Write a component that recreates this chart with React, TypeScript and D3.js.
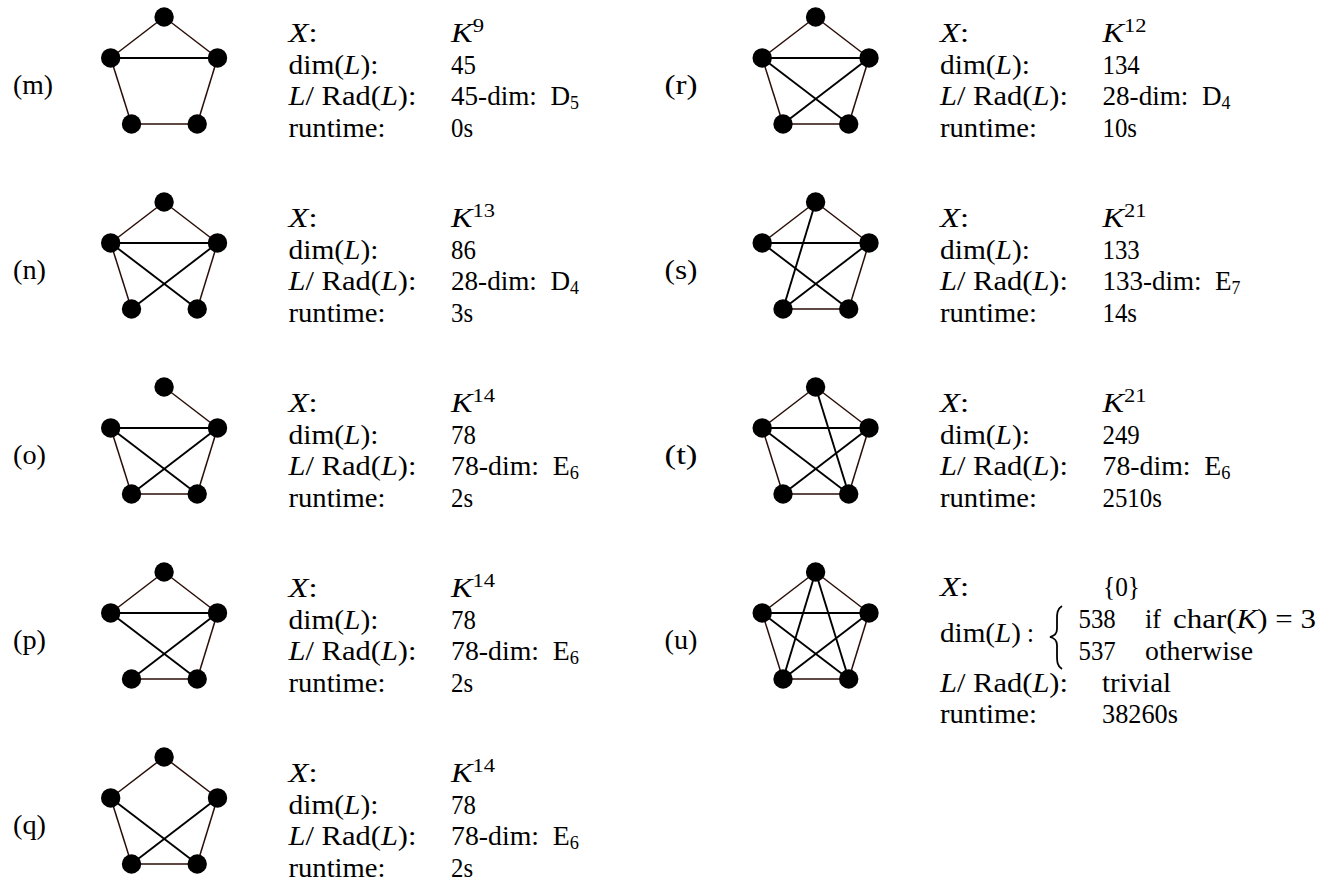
import React from "react";
import * as d3 from "d3";

const WIDTH = 1338;
const HEIGHT = 882;
const FONT = "'Liberation Serif', serif";
const SIZE = 27;
// the reference text is narrower than it is tall, so all of it gets squeezed a bit
const SQUEEZE = 0.92;

// panel data, one entry per graph
const letters = ["m", "n", "o", "p", "q", "r", "s", "t", "u"];
const columns = [0, 0, 0, 0, 0, 1, 1, 1, 1];
const rows = [0, 1, 2, 3, 4, 0, 1, 2, 3];
const edges = [
  ["01", "02", "12", "13", "24", "34"],
  ["01", "02", "12", "13", "24", "14", "23"],
  ["02", "12", "13", "24", "34", "14", "23"],
  ["01", "02", "12", "24", "34", "14", "23"],
  ["01", "02", "13", "24", "34", "14", "23"],
  ["01", "02", "12", "13", "24", "34", "14", "23"],
  ["01", "02", "12", "03", "24", "34", "14", "23"],
  ["01", "02", "12", "13", "24", "34", "14", "23", "04"],
  ["01", "02", "12", "13", "24", "34", "14", "23", "03", "04"],
];
const exponents = ["9", "13", "14", "14", "14", "12", "21", "21", ""];
const dims = ["45", "86", "78", "78", "78", "134", "133", "249", ""];
const quotientDims = ["45", "28", "78", "78", "78", "28", "133", "78", ""];
const quotientTypes = ["D", "D", "E", "E", "E", "D", "E", "E", ""];
const quotientSubs = ["5", "4", "6", "6", "6", "4", "7", "6", ""];
const runtimes = ["0s", "3s", "2s", "2s", "2s", "10s", "14s", "2510s", "38260s"];

// pentagon vertices in unit coordinates: top, left, right, bottom left, bottom right
const vertexX = [0.5, 0, 1, 0.195, 0.81];
const vertexY = [0, 0.383, 0.383, 1, 1];
const outerEdges = ["01", "02", "13", "24", "34"];

const colX = d3.scaleLinear().domain([0, 1]).range([0, 651.5]);
const rowY = d3.scaleLinear().domain([0, 4]).range([0, 740]);
const unitX = d3.scaleLinear().domain([0, 1]).range([110.7, 217.5]);
const unitY = d3.scaleLinear().domain([0, 1]).range([17, 124]);

type Seg = { t: string; i?: boolean; up?: boolean; down?: boolean };

function Tex({ x, y, segs, len }: { x: number; y: number; segs: Seg[]; len?: number }) {
  const spans: React.ReactNode[] = [];
  let shift = 0;
  segs.forEach((s, k) => {
    const target = s.up ? -10 : s.down ? 4 : 0;
    spans.push(
      <tspan
        key={k}
        dy={target - shift}
        fontStyle={s.i ? "italic" : "normal"}
        fontSize={s.up ? SIZE * 0.7 : s.down ? SIZE * 0.66 : SIZE}
      >
        {s.t}
      </tspan>
    );
    shift = target;
  });
  return (
    <text
      transform={`translate(${x},${y}) scale(${SQUEEZE},1)`}
      fontFamily={FONT}
      fontSize={SIZE}
      fill="#000"
      textLength={len ? len / SQUEEZE : undefined}
      lengthAdjust={len ? "spacingAndGlyphs" : undefined}
    >
      {spans}
    </text>
  );
}

const LBL_X: Seg[] = [{ t: "X", i: true }, { t: ":" }];
const LBL_DIM: Seg[] = [{ t: "dim(" }, { t: "L", i: true }, { t: "):" }];
const LBL_RAD: Seg[] = [{ t: "L", i: true }, { t: "/ Rad(" }, { t: "L", i: true }, { t: "):" }];
const LBL_RUN: Seg[] = [{ t: "runtime:" }];

function Graph({ index }: { index: number }) {
  return (
    <g>
      {edges[index].map((e) => {
        const a = +e[0];
        const b = +e[1];
        const outer = outerEdges.includes(e);
        return (
          <line
            key={e}
            x1={unitX(vertexX[a])}
            y1={unitY(vertexY[a])}
            x2={unitX(vertexX[b])}
            y2={unitY(vertexY[b])}
            stroke={outer ? "#2a0d06" : "#000"}
            strokeWidth={outer ? 1.5 : 1.9}
          />
        );
      })}
      {vertexX.map((vx, i) => (
        <circle key={i} cx={unitX(vx)} cy={unitY(vertexY[i])} r={9.7} fill="#000" />
      ))}
    </g>
  );
}

// the left curly brace in front of the two dim(L) cases
function bracePath() {
  const p = d3.path();
  const x = 1057;
  const top = 606;
  const mid = 637;
  const bot = 669;
  p.moveTo(x + 5, top);
  p.bezierCurveTo(x, top + 3, x, top + 8, x, top + 13);
  p.lineTo(x, mid - 8);
  p.bezierCurveTo(x, mid - 3, x - 3, mid - 1, x - 7, mid);
  p.bezierCurveTo(x - 3, mid + 1, x, mid + 3, x, mid + 8);
  p.lineTo(x, bot - 13);
  p.bezierCurveTo(x, bot - 8, x, bot - 3, x + 5, bot);
  return p.toString();
}

function Panel({ index }: { index: number }) {
  const dx = colX(columns[index]);
  const dy = rowY(rows[index]);
  const last = letters[index] === "u";
  return (
    <g transform={`translate(${dx},${dy})`}>
      <Tex x={13} y={94} segs={[{ t: `(${letters[index]})` }]} len={letters[index] === "m" ? 40 : 33} />
      <Graph index={index} />
      {!last && (
        <g>
          <Tex x={288.5} y={41.5} segs={LBL_X} len={29} />
          <Tex x={451} y={41.5} segs={[{ t: "K", i: true }, { t: exponents[index], up: true }]} len={exponents[index].length > 1 ? 44 : 33} />
          <Tex x={288.5} y={73.5} segs={LBL_DIM} len={90} />
          <Tex x={451} y={73.5} segs={[{ t: dims[index] }]} />
          <Tex x={288.5} y={105} segs={LBL_RAD} len={128} />
          <Tex
            x={451}
            y={105}
            segs={[
              { t: `${quotientDims[index]}-dim:\u00a0\u00a0${quotientTypes[index]}` },
              { t: quotientSubs[index], down: true },
            ]}
            len={quotientDims[index].length > 2 ? 138 : 128}
          />
          <Tex x={288.5} y={136.7} segs={LBL_RUN} len={97} />
          <Tex x={451} y={136.7} segs={[{ t: runtimes[index] }]} />
        </g>
      )}
    </g>
  );
}

// panel (u) has a case split, so its text sits on its own baselines
function PanelU() {
  return (
    <g>
      <Tex x={940} y={596} segs={LBL_X} len={29} />
      <Tex x={1103} y={596} segs={[{ t: "{0}" }]} len={37} />
      <Tex x={940} y={642} segs={LBL_DIM.slice(0, 2).concat([{ t: ")" }])} len={81} />
      <Tex x={1027} y={642} segs={[{ t: ":" }]} />
      <path d={bracePath()} fill="none" stroke="#000" strokeWidth={1.8} />
      <Tex x={1078.5} y={628} segs={[{ t: "538" }]} />
      <Tex x={1145} y={628} segs={[{ t: "if" }]} len={16} />
      <Tex x={1173} y={628} segs={[{ t: "char(" }, { t: "K", i: true }, { t: ") = 3" }]} len={143} />
      <Tex x={1078.5} y={660} segs={[{ t: "537" }]} />
      <Tex x={1145} y={660} segs={[{ t: "otherwise" }]} len={108} />
      <Tex x={940} y={691.7} segs={LBL_RAD} len={128} />
      <Tex x={1102} y={691.7} segs={[{ t: "trivial" }]} len={69} />
      <Tex x={940} y={723} segs={LBL_RUN} len={97} />
      <Tex x={1102} y={723} segs={[{ t: runtimes[8] }]} len={76} />
    </g>
  );
}

export default function App() {
  return (
    <svg
      width={WIDTH}
      height={HEIGHT}
      viewBox={`0 0 ${WIDTH} ${HEIGHT}`}
      style={{ position: "absolute", left: 0, top: 0, background: "#fff" }}
    >
      {letters.map((_, i) => (
        <Panel key={i} index={i} />
      ))}
      <PanelU />
    </svg>
  );
}
